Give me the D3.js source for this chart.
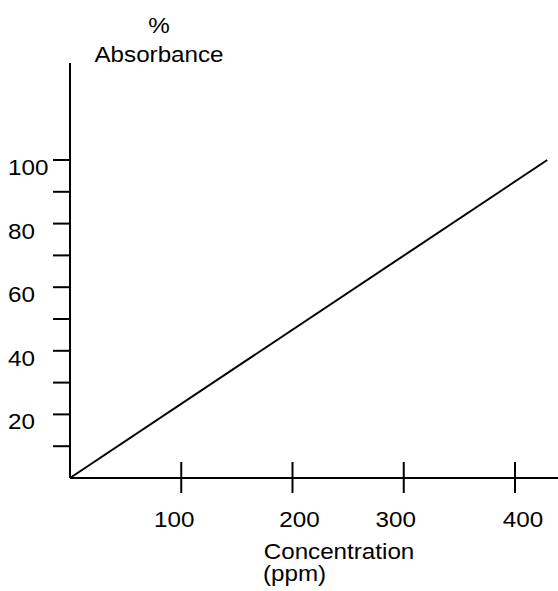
<!DOCTYPE html>
<html>
<head>
<meta charset="utf-8">
<script src="https://cdn.jsdelivr.net/npm/d3@7"></script>
<style>
  html, body { margin: 0; padding: 0; background: #fff; }
  text { font-family: "Liberation Sans", Arial, sans-serif; fill: #000; }
</style>
</head>
<body>
<script>
// ---- data ----
const concentration = [0, 429];          // ppm
const absorbance = [0, 100];             // %
const xTickValues = [100, 200, 300, 400];
const xTickLabels = ["100", "200", "300", "400"];
const yMajorTicks = [20, 40, 60, 80, 100];
const yMajorLabels = ["20", "40", "60", "80", "100"];
const yMinorTicks = [10, 30, 50, 70, 90];
const yTitle = ["%", "Absorbance"];
const xTitle = ["Concentration", "(ppm)"];

// ---- layout ----
const W = 558, H = 591;
const svg = d3.select("body").append("svg").attr("width", W).attr("height", H);

const x = d3.scaleLinear().domain([0, 400]).range([70, 515]);
const y = d3.scaleLinear().domain([0, 100]).range([478, 160]);
const FS = 22, SX = 1.1;
const xLabelNudge = [-7, 7, -8, 8];

function label(t, px, py, anchor) {
  svg.append("text")
    .attr("transform", `translate(${px},${py}) scale(${SX},1)`)
    .attr("text-anchor", anchor)
    .attr("font-size", FS)
    .text(t);
}

// axes lines
svg.append("line").attr("x1", x(0)).attr("x2", x(0)).attr("y1", 63).attr("y2", y(0))
  .attr("stroke", "#000").attr("stroke-width", 2);
svg.append("line").attr("x1", x(0)).attr("x2", W).attr("y1", y(0)).attr("y2", y(0))
  .attr("stroke", "#000").attr("stroke-width", 2);

// x ticks
svg.selectAll(".xt").data(xTickValues).enter().append("line")
  .attr("x1", d => x(d)).attr("x2", d => x(d))
  .attr("y1", y(0) - 16).attr("y2", y(0) + 15)
  .attr("stroke", "#000").attr("stroke-width", 2);
xTickValues.forEach((v, i) => label(xTickLabels[i], x(v) + xLabelNudge[i], 527, "middle"));

// y ticks
svg.selectAll(".yt").data(yMajorTicks.concat(yMinorTicks)).enter().append("line")
  .attr("x1", x(0) - 17).attr("x2", x(0))
  .attr("y1", d => y(d)).attr("y2", d => y(d))
  .attr("stroke", "#000").attr("stroke-width", 2);
yMajorTicks.forEach((v, i) => label(yMajorLabels[i], 8, y(v) + 15, "start"));

// titles
label(yTitle[0], 159, 33, "middle");
label(yTitle[1], 159, 62, "middle");
label(xTitle[0], 339, 559, "middle");
label(xTitle[1], 263, 581, "start");

// data line
const line = d3.line().x(d => x(d[0])).y(d => y(d[1]));
svg.append("path")
  .datum(concentration.map((c, i) => [c, absorbance[i]]))
  .attr("d", line)
  .attr("fill", "none").attr("stroke", "#000").attr("stroke-width", 2);
</script>
</body>
</html>
